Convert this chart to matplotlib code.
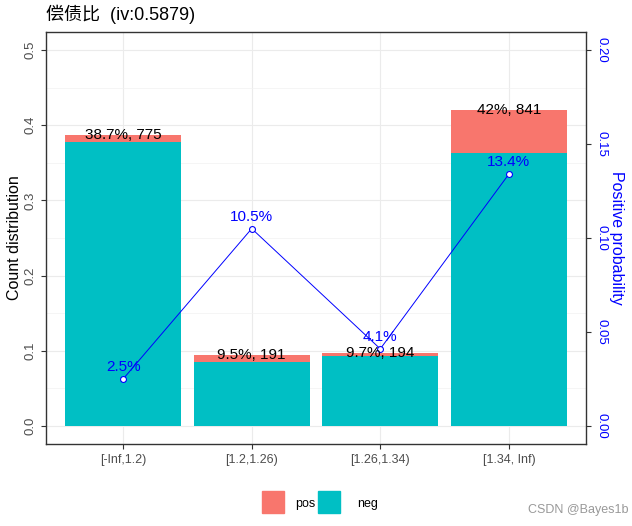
import matplotlib
matplotlib.use("Agg")
import matplotlib.pyplot as plt
from matplotlib.patches import Rectangle
import numpy as np

plt.rcParams['font.family'] = ['Liberation Sans', 'Noto Sans CJK SC', 'DejaVu Sans']

bins = ["[-Inf,1.2)", "[1.2,1.26)", "[1.26,1.34)", "[1.34, Inf)"]
count = [775, 191, 194, 841]
count_distr = [0.387, 0.095, 0.097, 0.42]
posprob = [0.025, 0.105, 0.041, 0.134]
dist_labels = ["38.7%", "9.5%", "9.7%", "42%"]
prob_labels = ["2.5%", "10.5%", "4.1%", "13.4%"]
title = "偿债比  (iv:0.5879)"

pos_col = "#F8766D"
neg_col = "#00BFC4"
scale = 0.4  # right axis = left * scale

fig = plt.figure(figsize=(6.32, 5.26), dpi=100)
ax = fig.add_axes([0.0728, 0.156, 0.8544, 0.783])

x = np.arange(1, len(bins) + 1)
cd = np.array(count_distr)
pp = np.array(posprob)
pos_part = cd * pp
neg_part = cd - pos_part

ax.bar(x, neg_part, width=0.9, color=neg_col, zorder=2)
ax.bar(x, pos_part, bottom=neg_part, width=0.9, color=pos_col, zorder=2)

for xi, c, d, n in zip(x, cd, dist_labels, count):
    ax.text(xi, c, f"{d}, {n}", ha='center', va='center', fontsize=11, color='black', zorder=5)

ax.plot(x, pp / scale, color='blue', lw=0.7, zorder=3)
ax.scatter(x, pp / scale, s=18, facecolor='white', edgecolor='blue', linewidths=0.8, zorder=4)
for xi, p, l in zip(x, pp, prob_labels):
    ax.text(xi, p / scale + 0.016, l, ha='center', va='center', fontsize=11, color='blue', zorder=5)

ax.set_xlim(0.4, 4.6)
ax.set_ylim(-0.024, 0.524)
ax.set_xticks(x)
ax.set_xticklabels(bins, fontsize=9, color='#4D4D4D')
ax.set_yticks(np.arange(0, 0.51, 0.1))
ax.set_yticklabels([f"{v:.1f}" for v in np.arange(0, 0.51, 0.1)], rotation=90, va='center', fontsize=9.5, color='#4D4D4D')
ax.set_yticks(np.arange(0.05, 0.5, 0.1), minor=True)
ax.grid(True, which='major', color='#EBEBEB', lw=0.8, zorder=0)
ax.grid(True, which='minor', axis='y', color='#F2F2F2', lw=0.5, zorder=0)
ax.set_axisbelow(True)
ax.tick_params(axis='both', which='major', length=3.5, color='#333333', width=0.8)
ax.tick_params(axis='y', which='minor', length=0)
ax.set_ylabel("Count distribution", fontsize=11.5, color='black', labelpad=2)
for s in ax.spines.values():
    s.set_color('#333333')
    s.set_linewidth(1.0)

ax2 = ax.twinx()
ax2.set_ylim(-0.024 * scale, 0.524 * scale)
rt = np.arange(0, 0.201, 0.05)
ax2.set_yticks(rt)
ax2.set_yticklabels([f"{v:.2f}" for v in rt], rotation=270, va='center', fontsize=9.5, color='blue')
ax2.tick_params(axis='y', length=3.5, color='#333333', width=0.8)
ax2.set_ylabel("Positive probability", fontsize=11.5, color='blue', rotation=270, labelpad=12)
for s in ax2.spines.values():
    s.set_visible(False)

fig.text(0.0728, 0.972, title, fontsize=13, ha='left', va='center', color='black')

# legend
fig.patches.append(Rectangle((262 / 632, 1 - 513 / 526), 22 / 632, 22 / 526,
                             transform=fig.transFigure, color=pos_col, figure=fig))
fig.patches.append(Rectangle((318 / 632, 1 - 513 / 526), 22 / 632, 22 / 526,
                             transform=fig.transFigure, color=neg_col, figure=fig))
fig.text(295 / 632, 1 - 504 / 526, "pos", fontsize=9, ha='left', va='center')
fig.text(357 / 632, 1 - 504 / 526, "neg", fontsize=9, ha='left', va='center')

fig.text(628 / 632, 1 - 510 / 526, "CSDN @Bayes1b", fontsize=9, ha='right', va='center', color='#999999')

fig.savefig("out.png", dpi=100)
